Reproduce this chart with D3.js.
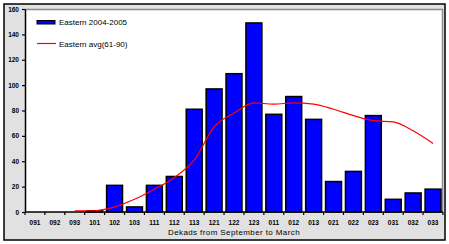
<!DOCTYPE html>
<html lang="en">
<head>
    <title>Eastern dekads</title>
    <script src="https://d3js.org/d3.v7.min.js"></script>
    <style>
        body { margin: 0; background: #fff; }
        text { font-family: "Liberation Sans", Arial, sans-serif; }
    </style>
</head>
<body>
<svg width="449" height="244" id="mainsvg"></svg>
<script>
    // dekads Sept -> March
    const dekads = ['091','092','093','101','102','103','111','112','113','121','122','123',
                    '011','012','013','021','022','023','031','032','033']
    const season = [0, 0, 0, 1, 21, 4, 21, 28, 81, 97, 109, 149, 77, 91, 73, 24, 32, 76, 10, 15, 18]
    const avg6190 = [null, null, 1, 1, 4, 10, 18, 27, 41, 67, 78, 86, 85, 86, 85, 81, 76, 72, 71, 64, 54]
    const yTicks = [0, 20, 40, 60, 80, 100, 120, 140, 160]
    const seriesNames = ['Eastern 2004-2005', 'Eastern avg(61-90)']
    const xAxisLabel = 'Dekads from September to March'

    const svg = d3.select('#mainsvg')
    const margin = {top: 9, right: 6, bottom: 32, left: 25}
    const innerWidth = 443 - margin.left
    const innerHeight = 212 - margin.top

    // outer frame
    svg.append('rect').attr('x', 4).attr('y', 4).attr('width', 441).attr('height', 236)
        .attr('fill', '#e1e1e1').attr('stroke', '#000').attr('stroke-width', 1.5)

    const g = svg.append('g').attr('transform', `translate(${margin.left}, ${margin.top})`)

    // plot area
    g.append('rect').attr('width', innerWidth).attr('height', innerHeight).attr('fill', '#fff')
    g.append('path').attr('d', `M0,0.5H${innerWidth - 0.5}V${innerHeight}`)
        .attr('fill', 'none').attr('stroke', '#8c8c8c').attr('stroke-width', 1.5)

    const xScale = d3.scaleBand().domain(dekads).range([0, innerWidth]).paddingInner(0.2).paddingOuter(0.1)
    const xBand = d3.scaleBand().domain(dekads).range([0, innerWidth])
    const yScale = d3.scaleLinear().domain([0, 160]).range([innerHeight, 0])

    // bars
    g.selectAll('.bar').data(dekads.map((d, i) => ({k: d, v: season[i]})).filter(d => d.v > 0))
        .join('rect')
        .attr('x', d => xScale(d.k))
        .attr('width', xScale.bandwidth())
        .attr('y', d => yScale(d.v))
        .attr('height', d => innerHeight - yScale(d.v))
        .attr('fill', '#0000ff')
        .attr('stroke', '#000')
        .attr('stroke-width', 1.5)

    // average line
    const line = d3.line()
        .defined(d => d.v !== null)
        .x(d => xBand(d.k) + xBand.bandwidth() / 2)
        .y(d => yScale(d.v))
        .curve(d3.curveMonotoneX)
    g.append('path').datum(dekads.map((d, i) => ({k: d, v: avg6190[i]})))
        .attr('d', line).attr('fill', 'none').attr('stroke', '#ff0000').attr('stroke-width', 1.2)

    // y axis
    const yAxis = d3.axisLeft(yScale).tickValues(yTicks).tickSize(3).tickSizeOuter(0)
    const yAxisGroup = g.append('g').call(yAxis)
    yAxisGroup.select('.domain').attr('stroke-width', 1.5)
    yAxisGroup.selectAll('.tick line').attr('stroke-width', 1.2)
    yAxisGroup.selectAll('.tick text').attr('x', -6).attr('font-size', '6.5px').attr('font-weight', 'bold')

    // x axis, ticks on band edges
    const xAxisGroup = g.append('g').attr('transform', `translate(0, ${innerHeight})`)
    xAxisGroup.append('line').attr('x1', 0).attr('x2', innerWidth).attr('stroke', '#000').attr('stroke-width', 1.5)
    xAxisGroup.selectAll('.xt').data(dekads.concat(['end']))
        .join('line')
        .attr('x1', (d, i) => i * xBand.step()).attr('x2', (d, i) => i * xBand.step())
        .attr('y1', 0).attr('y2', 3).attr('stroke', '#000').attr('stroke-width', 1.2)
    xAxisGroup.selectAll('.xl').data(dekads)
        .join('text')
        .attr('x', d => xBand(d) + xBand.bandwidth() / 2)
        .attr('y', 12.5)
        .attr('text-anchor', 'middle')
        .attr('font-size', '6.5px').attr('font-weight', 'bold')
        .text(d => d)

    svg.append('text').text(xAxisLabel)
        .attr('x', 234).attr('y', 234.5).attr('text-anchor', 'middle')
        .attr('font-size', '8px').attr('letter-spacing', '0.4px')

    // legend
    const legend = svg.append('g').attr('transform', 'translate(37, 22)')
    legend.append('rect').attr('x', 0).attr('y', -1.5).attr('width', 18).attr('height', 3.5)
        .attr('fill', '#0000ff').attr('stroke', '#000').attr('stroke-width', 1)
    legend.append('line').attr('x1', 0).attr('x2', 19).attr('y1', 21.5).attr('y2', 21.5)
        .attr('stroke', '#ff0000').attr('stroke-width', 1.2)
    legend.selectAll('.lt').data(seriesNames)
        .join('text')
        .attr('x', 22).attr('y', (d, i) => i * 21.5 + 3)
        .attr('font-size', '8px')
        .text(d => d)
</script>
</body>
</html>
